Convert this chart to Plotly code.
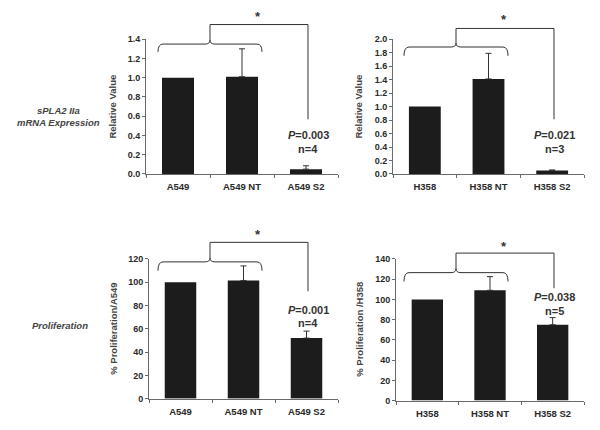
import plotly.graph_objects as go

W, H = 600, 430

# ---- data ----
cats_a549 = ["A549", "A549 NT", "A549 S2"]
cats_h358 = ["H358", "H358 NT", "H358 S2"]

mrna_a549 = [1.00, 1.01, 0.05]
mrna_a549_err = [0, 0.29, 0.035]
mrna_h358 = [1.00, 1.41, 0.05]
mrna_h358_err = [0, 0.38, 0.01]

prolif_a549 = [100, 101.5, 52]
prolif_a549_err = [0, 12.5, 6]
prolif_h358 = [100, 109, 75]
prolif_h358_err = [0, 13.5, 7]

pvals = ["0.003", "0.021", "0.001", "0.038"]
nvals = [4, 3, 4, 5]

def px(x):
    return x / W

def py(y):
    return 1 - y / H

FONT = "Arial, Liberation Sans, sans-serif"
BAR = "#1c1c1c"
AX = "#6a6a6a"
TXT = "#2a2a2a"

fig = go.Figure()

panels = [
    dict(cats=cats_a549, vals=mrna_a549, err=mrna_a549_err, xd=(146, 338), yd=(173, 35),
         yr=[0, 1.4], dt=0.2, fmt=".1f", title="Relative Value", tx=113),
    dict(cats=cats_h358, vals=mrna_h358, err=mrna_h358_err, xd=(393, 584), yd=(173, 35),
         yr=[0, 2.0], dt=0.2, fmt=".1f", title="Relative Value", tx=359),
    dict(cats=cats_a549, vals=prolif_a549, err=prolif_a549_err, xd=(149, 338), yd=(403, 260),
         yr=[0, 120], dt=20, fmt="d", title="% Proliferation/A549", tx=114),
    dict(cats=cats_h358, vals=prolif_h358, err=prolif_h358_err, xd=(396, 584), yd=(405, 260),
         yr=[0, 140], dt=20, fmt="d", title="% Proliferation /H358", tx=360),
]

annotations = []
shapes = []

for i, p in enumerate(panels):
    k = "" if i == 0 else str(i + 1)
    fig.add_trace(go.Bar(
        x=p["cats"], y=p["vals"], xaxis="x" + k, yaxis="y" + k,
        marker=dict(color=BAR, line=dict(width=0)), width=0.5,
        showlegend=False, hoverinfo="skip",
    ))
    # error bars only where an error exists (upper side only)
    ec = [c for c, e in zip(p["cats"], p["err"]) if e]
    ev = [v for v, e in zip(p["vals"], p["err"]) if e]
    ee = [e for e in p["err"] if e]
    fig.add_trace(go.Scatter(
        x=ec, y=ev, xaxis="x" + k, yaxis="y" + k, mode="markers",
        marker=dict(size=1, opacity=0),
        error_y=dict(type="data", symmetric=False, array=ee, arrayminus=[0] * len(ee),
                     color="#333333", thickness=1, width=3),
        showlegend=False, hoverinfo="skip",
    ))
    fig.layout["xaxis" + k] = dict(
        domain=[px(p["xd"][0]), px(p["xd"][1])], anchor="y" + k,
        range=[-0.5, 2.5], showline=True, linecolor=AX, linewidth=1,
        ticks="outside", tickson="boundaries", ticklen=3, tickcolor=AX,
        ticklabelstandoff=4,
        tickfont=dict(family=FONT, size=9.5, color=TXT, weight="bold"),
        showgrid=False, zeroline=False, fixedrange=True,
    )
    fig.layout["yaxis" + k] = dict(
        domain=[py(p["yd"][0]), py(p["yd"][1])], anchor="x" + k,
        range=p["yr"], dtick=p["dt"], tick0=0, tickformat=p["fmt"],
        showline=True, linecolor=AX, linewidth=1,
        ticks="outside", ticklen=3, tickcolor=AX,
        tickfont=dict(family=FONT, size=9, color=TXT, weight="bold"),
        showgrid=False, zeroline=False, fixedrange=True,
    )
    annotations.append(dict(
        x=px(p["tx"]), y=py((p["yd"][0] + p["yd"][1]) / 2), xref="paper", yref="paper",
        text=p["title"], textangle=-90, showarrow=False,
        font=dict(family=FONT, size=9.5, color="#444444", weight="bold"),
        xanchor="center", yanchor="middle",
    ))

# brackets: (left, right, curl_y, end_drop, top_y, vert_x, vert_bottom, star_x, star_y, p_y)
brackets = [
    (158, 262, 40, 8, 20, 308, 117, 258, 13, 133),
    (404, 508, 43, 9, 24, 554, 117, 504, 16, 133),
    (158, 262, 263, 9, 243, 308, 293, 258, 236, 312),
    (404, 508, 274, 9, 254, 554, 290, 504, 248, 299),
]

def P(x, y):
    return f"{px(x):.5f},{py(y):.5f}"

for i, (l, r, cy, drop, ty, vx, vb, sx, sy, pyy) in enumerate(brackets):
    c = (l + r) / 2
    path = (f"M {P(l, cy + drop)} Q {P(l, cy)} {P(l + 5, cy)} L {P(c - 5, cy)} "
            f"Q {P(c, cy)} {P(c, cy - 4)} Q {P(c, cy)} {P(c + 5, cy)} L {P(r - 5, cy)} "
            f"Q {P(r, cy)} {P(r, cy + drop)} "
            f"M {P(c, cy - 4)} L {P(c, ty)} L {P(vx, ty)} L {P(vx, vb)}")
    shapes.append(dict(type="path", path=path, xref="paper", yref="paper",
                       line=dict(color="#333333", width=1)))
    annotations.append(dict(x=px(sx), y=py(sy - 1), xref="paper", yref="paper", text="*",
                            showarrow=False, xanchor="center", yanchor="middle",
                            font=dict(family=FONT, size=13, color="#333333", weight="bold")))
    annotations.append(dict(x=px(vx), y=py(pyy), xref="paper", yref="paper",
                            text=f"<i>P</i>={pvals[i]}", showarrow=False,
                            xanchor="center", yanchor="middle",
                            font=dict(family=FONT, size=11, color="#333333", weight="bold")))
    annotations.append(dict(x=px(vx), y=py(pyy + 14), xref="paper", yref="paper",
                            text=f"n={nvals[i]}", showarrow=False,
                            xanchor="center", yanchor="middle",
                            font=dict(family=FONT, size=11, color="#333333", weight="bold")))

# row labels
rowfont = dict(family=FONT, size=9.5, color="#444444", weight="bold", style="italic")
annotations.append(dict(x=px(58), y=py(108), xref="paper", yref="paper",
                        text="sPLA2 IIa", showarrow=False,
                        xanchor="center", yanchor="middle", font=rowfont))
annotations.append(dict(x=px(58), y=py(120), xref="paper", yref="paper",
                        text="mRNA Expression", showarrow=False,
                        xanchor="center", yanchor="middle", font=rowfont))
annotations.append(dict(x=px(60), y=py(328), xref="paper", yref="paper",
                        text="Proliferation", showarrow=False,
                        xanchor="center", yanchor="middle", font=rowfont))

fig.update_layout(
    width=W, height=H, margin=dict(l=0, r=0, t=0, b=0),
    paper_bgcolor="white", plot_bgcolor="white",
    annotations=annotations, shapes=shapes, bargap=0.5,
)

fig.write_html("out.html", config={"displayModeBar": False},
               post_script="document.body.style.margin='0';")
